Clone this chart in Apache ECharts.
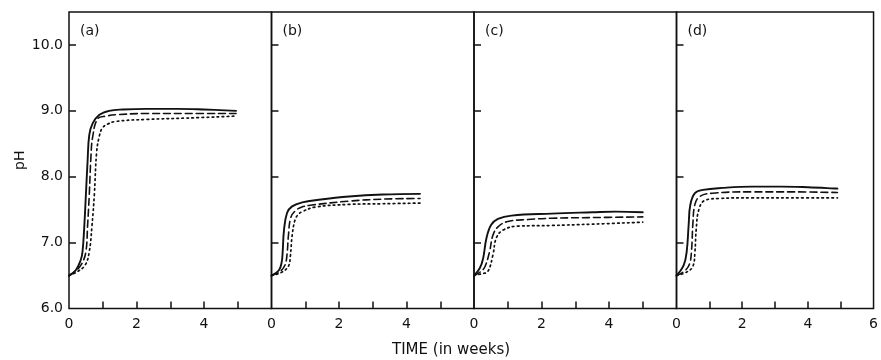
<!DOCTYPE html>
<html>
<head>
<meta charset="utf-8">
<script src="https://cdn.jsdelivr.net/npm/echarts@6/dist/echarts.min.js"></script>
<style>
  html, body { margin: 0; padding: 0; background: #fff; }
  #chart { width: 881px; height: 360px; }
</style>
</head>
<body>
<div id="chart"></div>
<script>
// pH against time (weeks) for four treatments, three runs each
const panelLabels = ['(a)', '(b)', '(c)', '(d)'];
const yTickLabels = [6, 7, 8, 9, 10];
const xTickLabels = [0, 2, 4];
const xTickLabelsLast = [0, 2, 4, 6];

const solidA = [[0,6.5],[0.2,6.58],[0.35,6.74],[0.4,6.86],[0.45,7.22],[0.5,7.72],[0.55,8.23],[0.6,8.63],[0.7,8.81],[0.9,8.94],[1.19,9.0],[1.6,9.02],[2.3,9.03],[3.2,9.03],[4.0,9.02],[4.95,9.0]];
const dashedA = [[0,6.5],[0.2,6.57],[0.38,6.68],[0.5,6.86],[0.55,7.25],[0.6,7.72],[0.65,8.3],[0.7,8.6],[0.85,8.88],[1.1,8.92],[1.39,8.94],[2.3,8.96],[3.5,8.96],[4.95,8.96]];
const dottedA = [[0,6.5],[0.25,6.56],[0.48,6.66],[0.6,6.86],[0.68,7.25],[0.75,7.72],[0.82,8.38],[0.9,8.62],[0.99,8.74],[1.15,8.8],[1.39,8.84],[2.3,8.87],[3.5,8.89],[4.95,8.92]];

const solidB = [[0,6.5],[0.22,6.58],[0.3,6.7],[0.33,6.85],[0.37,7.19],[0.46,7.45],[0.61,7.55],[0.91,7.61],[1.4,7.65],[2.3,7.7],[3.3,7.73],[4.4,7.74]];
const dashedB = [[0,6.5],[0.25,6.56],[0.4,6.66],[0.46,6.82],[0.5,7.1],[0.57,7.38],[0.7,7.48],[0.9,7.54],[1.2,7.57],[2.3,7.63],[3.3,7.66],[4.4,7.67]];
const dottedB = [[0,6.5],[0.3,6.55],[0.5,6.64],[0.56,6.8],[0.61,7.1],[0.7,7.35],[0.8,7.43],[0.91,7.47],[1.3,7.54],[2.3,7.58],[3.3,7.59],[4.4,7.6]];

const solidC = [[0,6.5],[0.17,6.61],[0.27,6.76],[0.37,7.07],[0.51,7.27],[0.71,7.36],[1.11,7.41],[2.3,7.44],[3.5,7.46],[4.2,7.47],[5,7.46]];
const dashedC = [[0,6.5],[0.2,6.56],[0.32,6.63],[0.46,6.86],[0.56,7.11],[0.71,7.24],[1.0,7.32],[1.6,7.35],[2.3,7.37],[3.5,7.38],[5,7.39]];
const dottedC = [[0,6.5],[0.25,6.53],[0.41,6.56],[0.56,6.81],[0.66,7.07],[0.86,7.19],[1.3,7.25],[2.3,7.26],[3.5,7.28],[5,7.31]];

const solidD = [[0,6.5],[0.22,6.66],[0.31,6.86],[0.37,7.27],[0.42,7.57],[0.56,7.75],[0.81,7.8],[1.4,7.83],[2.3,7.85],[3.2,7.85],[4.0,7.84],[4.9,7.82]];
const dashedD = [[0,6.5],[0.25,6.57],[0.4,6.68],[0.46,6.9],[0.5,7.3],[0.56,7.58],[0.71,7.7],[1.1,7.75],[2.3,7.77],[3.5,7.77],[4.9,7.76]];
const dottedD = [[0,6.5],[0.3,6.55],[0.5,6.64],[0.56,6.85],[0.6,7.2],[0.68,7.5],[0.86,7.64],[1.3,7.67],[2.3,7.68],[3.5,7.68],[4.9,7.68]];

const panels = [
  [solidA, dashedA, dottedA],
  [solidB, dashedB, dottedB],
  [solidC, dashedC, dottedC],
  [solidD, dashedD, dottedD]
];

const FONT = 'DejaVu Sans';
const INK = '#111';
const panelLeft = 69, panelWidth = 202.5, panelTop = 12, panelBottom = 51.5;
const styles = [
  { type: 'solid', width: 1.9 },
  { type: [7, 4], width: 1.6 },
  { type: [1.6, 3.4], width: 1.7 }
];

const grid = [], xAxis = [], yAxis = [], series = [], title = [];
panels.forEach((curves, i) => {
  const last = i === panels.length - 1;
  grid.push({
    left: panelLeft + i * panelWidth, top: panelTop, width: panelWidth,
    bottom: panelBottom, show: true, borderColor: INK, borderWidth: 1.5,
    backgroundColor: 'transparent', containLabel: false
  });
  xAxis.push({
    type: 'value', gridIndex: i, min: 0, max: 6, interval: 1,
    axisLine: { show: false }, splitLine: { show: false },
    axisTick: { inside: true, length: 7, lineStyle: { color: INK, width: 1.5 }, customValues: [1, 2, 3, 4, 5] },
    axisLabel: {
      customValues: last ? xTickLabelsLast : xTickLabels,
      color: INK, fontFamily: FONT, fontSize: 14, margin: 9
    }
  });
  yAxis.push({
    type: 'value', gridIndex: i, min: 6, max: 10.5, interval: 1,
    axisLine: { show: false }, splitLine: { show: false },
    axisTick: { inside: true, length: 7, lineStyle: { color: INK, width: 1.5 }, customValues: [7, 8, 9, 10] },
    axisLabel: {
      show: i === 0, customValues: yTickLabels,
      formatter: v => v.toFixed(1),
      color: INK, fontFamily: FONT, fontSize: 14, margin: 6
    },
    name: i === 0 ? 'pH' : '', nameLocation: 'middle', nameGap: 42,
    nameMoveOverlap: false,
    nameTextStyle: { color: INK, fontFamily: FONT, fontSize: 14 }
  });
  title.push({
    text: panelLabels[i], left: panelLeft + i * panelWidth + 6, top: panelTop + 7,
    textStyle: { color: INK, fontFamily: FONT, fontSize: 14, fontWeight: 'normal' }
  });
  curves.forEach((data, k) => {
    series.push({
      type: 'line', xAxisIndex: i, yAxisIndex: i, data: data,
      showSymbol: false, smooth: 0.4, silent: true,
      lineStyle: { color: INK, width: styles[k].width, type: styles[k].type, cap: 'round' }
    });
  });
});

const chart = echarts.init(document.getElementById('chart'), null, { renderer: 'canvas' });
chart.setOption({
  animation: false,
  backgroundColor: '#fff',
  title: title,
  grid: grid,
  xAxis: xAxis,
  yAxis: yAxis,
  series: series,
  graphic: [{
    type: 'text', left: 392, top: 343,
    style: { text: 'TIME (in weeks)', fill: INK, font: '15px "DejaVu Sans"' }
  }]
});
</script>
</body>
</html>
